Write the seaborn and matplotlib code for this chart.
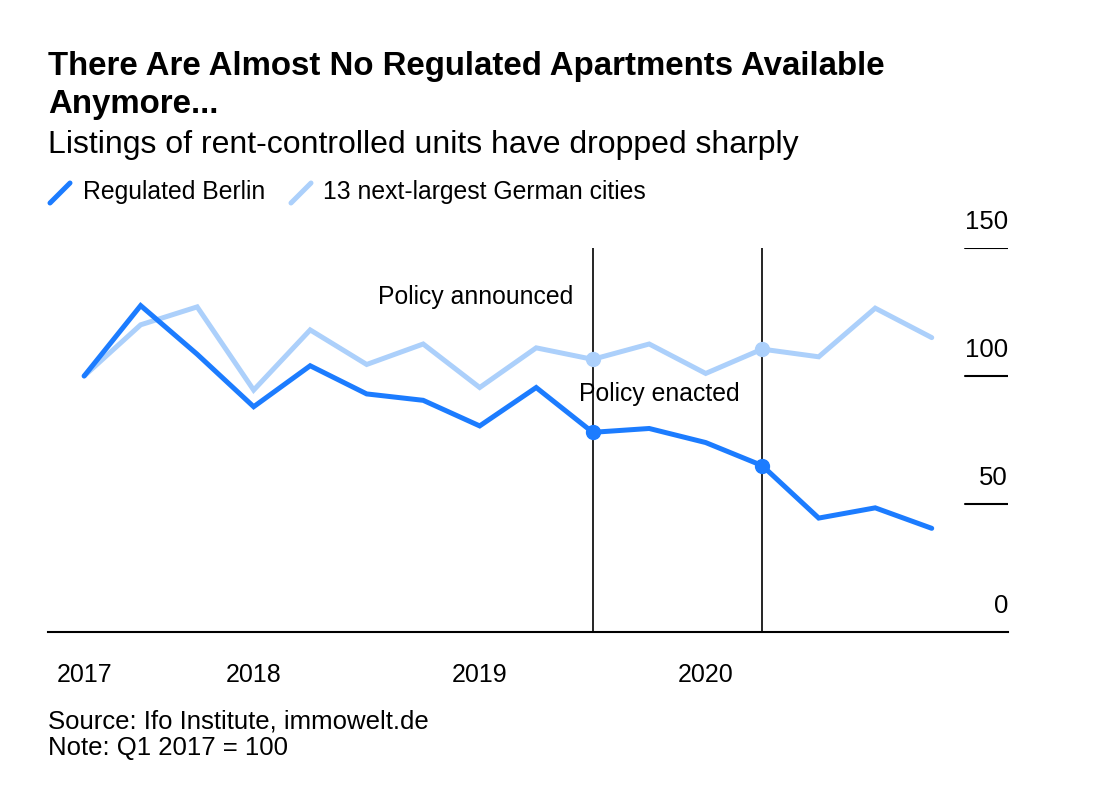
import pandas as pd
import matplotlib.pyplot as plt
import seaborn as sns
from matplotlib.lines import Line2D

# Quarterly index, Q1 2017 = 100
quarters = list(range(16))
berlin = [100, 127.5, 108.5, 88, 104, 93, 90.5, 80.5, 95.5, 78, 79.5, 74, 65, 44.5, 48.5, 40.5]
other_cities = [100, 120, 127, 94.5, 118, 104.5, 112.5, 95.5, 111, 106.5, 112.5, 101, 110.5, 107.5, 126.5, 115]
series_names = ['Regulated Berlin', '13 next-largest German cities']
year_ticks = [0, 3, 7, 11]
year_labels = ['2017', '2018', '2019', '2020']
y_ticks = [0, 50, 100, 150]
events = {9: 'Policy announced', 12: 'Policy enacted'}

dark_blue = '#1C7CFF'
light_blue = '#ACD0FB'

df = pd.DataFrame({
    'quarter': quarters * 2,
    'value': berlin + other_cities,
    'series': [series_names[0]] * 16 + [series_names[1]] * 16,
})

sns.set_theme(style='white')
plt.rcParams['font.family'] = ['Liberation Sans', 'DejaVu Sans']
plt.rcParams['text.color'] = 'black'
plt.rcParams['xtick.color'] = 'black'
plt.rcParams['ytick.color'] = 'black'

fig = plt.figure(figsize=(10.95, 7.88), dpi=100)
ax = fig.add_axes([48 / 1095, 1 - 632 / 788, 960 / 1095, 384 / 788])

sns.lineplot(data=df, x='quarter', y='value', hue='series',
             hue_order=series_names[::-1],
             palette={series_names[0]: dark_blue, series_names[1]: light_blue},
             linewidth=3.6, legend=False, ax=ax,
             solid_capstyle='round', solid_joinstyle='miter')

# vertical event lines + markers
for q in events:
    ax.axvline(q, color='black', linewidth=1.2, zorder=1)
    ax.plot(q, other_cities[q], 'o', color=light_blue, markersize=10, zorder=4)
    ax.plot(q, berlin[q], 'o', color=dark_blue, markersize=10, zorder=5)

ax.text(8.65, 131, 'Policy announced', ha='right', va='center', fontsize=17.8)
ax.text(8.75, 93, 'Policy enacted', ha='left', va='center', fontsize=17.8)

ax.set_xlim(-0.64, 16.35)
ax.set_ylim(0, 150)

# axis styling
for s in ['left', 'right', 'top']:
    ax.spines[s].set_visible(False)
ax.spines['bottom'].set_linewidth(1.5)
ax.spines['bottom'].set_color('black')
ax.set_xticks(year_ticks)
ax.set_xticklabels(year_labels, fontsize=18)
ax.tick_params(axis='x', direction='out', length=9, width=1.2, pad=13, colors='black')
ax.set_yticks([])
ax.set_xlabel('')
ax.set_ylabel('')

# y labels on the right above short rules
for v in y_ticks:
    if v > 0:
        ax.axhline(v, xmin=0.955, xmax=1.0, color='black', linewidth=1.5)
    ax.annotate(str(v), xy=(1.0, v), xycoords=('axes fraction', 'data'),
                xytext=(0, 10), textcoords='offset points',
                ha='right', va='bottom', fontsize=18.5)

# titles
fig.text(48 / 1095, 1 - 67 / 788, 'There Are Almost No Regulated Apartments Available',
         fontsize=23.8, fontweight='bold', va='center')
fig.text(48 / 1095, 1 - 105 / 788, 'Anymore...', fontsize=23.8, fontweight='bold', va='center')
fig.text(48 / 1095, 1 - 145 / 788, 'Listings of rent-controlled units have dropped sharply',
         fontsize=23, va='center')

# legend with slanted line glyphs
fig.add_artist(Line2D([50 / 1095, 70 / 1095], [1 - 203 / 788, 1 - 183 / 788],
                      color=dark_blue, linewidth=3.6))
fig.text(83 / 1095, 1 - 192 / 788, series_names[0], fontsize=17.8, va='center')
fig.add_artist(Line2D([291 / 1095, 311 / 1095], [1 - 203 / 788, 1 - 183 / 788],
                      color=light_blue, linewidth=3.6))
fig.text(323 / 1095, 1 - 192 / 788, series_names[1], fontsize=17.8, va='center')

# source
fig.text(48 / 1095, 1 - 722 / 788, 'Source: Ifo Institute, immowelt.de', fontsize=18.5, va='center')
fig.text(48 / 1095, 1 - 748 / 788, 'Note: Q1 2017 = 100', fontsize=18.5, va='center')

fig.savefig('out.png', dpi=100, facecolor='white')
